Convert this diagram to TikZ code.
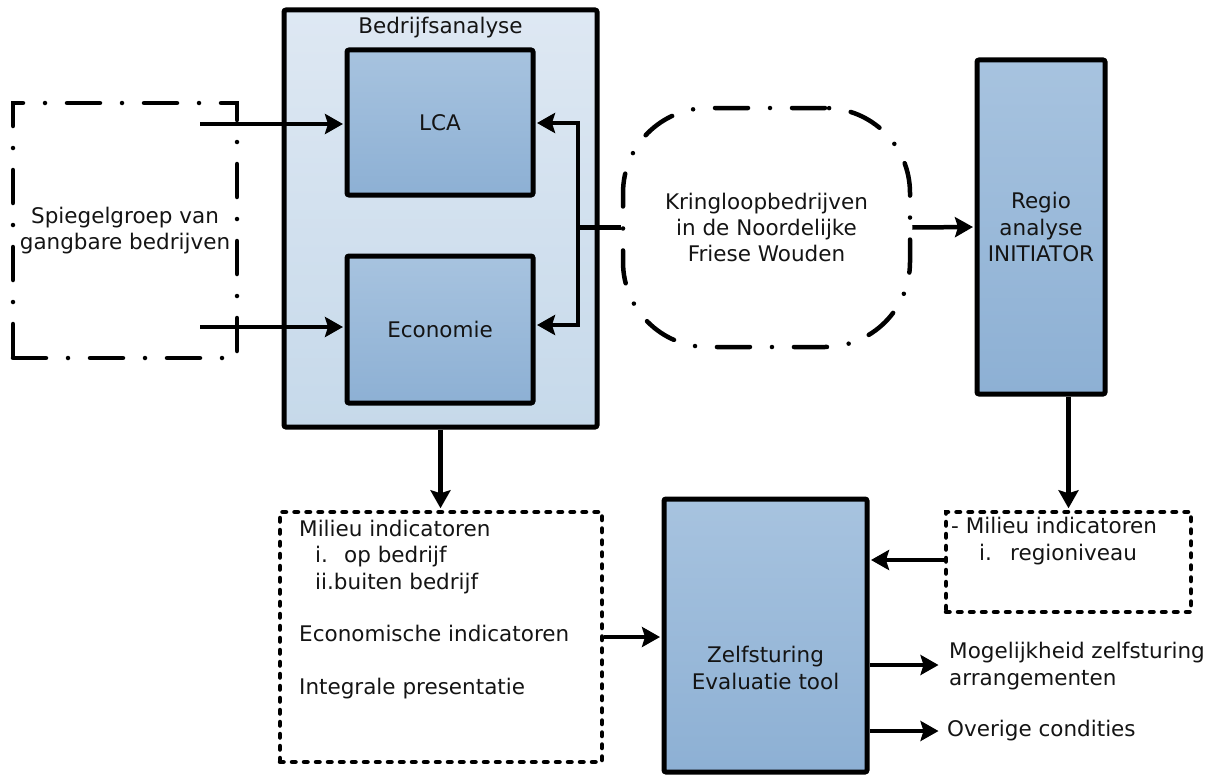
\documentclass[tikz,border=0pt]{standalone}
\usepackage{fontspec}
\setmainfont{DejaVu Sans}
\usetikzlibrary{arrows.meta,calc}
\definecolor{txt}{HTML}{141414}
\definecolor{baTop}{HTML}{DEE8F3}
\definecolor{baBot}{HTML}{C6D9EA}
\definecolor{blTop}{HTML}{A7C3DF}
\definecolor{blBot}{HTML}{8DB0D4}
\newcommand\dfs{\fontsize{21.5}{26.3}\selectfont}
\begin{document}
\begin{tikzpicture}[x=1pt,y=-1pt,
  box/.style={draw=black, line width=5pt, rounded corners=2pt, inner sep=0pt, text=txt, font=\dfs, align=center},
  outerbox/.style={box, top color=baTop, bottom color=baBot},
  bluebox/.style={box, top color=blTop, bottom color=blBot},
  dashdotbox/.style={draw=black, line width=4.5pt, line cap=round, dash pattern=on 33pt off 22pt on 0pt off 22pt, inner sep=0pt, text=txt, font=\dfs, align=center},
  dotbox/.style={draw=black, line width=4.5pt, line cap=round, dash pattern=on 3.5pt off 8.5pt, inner sep=0pt},
  lbl/.style={text=txt, font=\dfs, inner sep=0pt},
  arr/.style={draw=black, line width=4.5pt, shorten >=1.5pt, -{Stealth[length=18pt,width=20pt,inset=3pt]}},
  conn/.style={draw=black, line width=4.5pt}]
\useasboundingbox (0,0) rectangle (1217,776);

% Bedrijfsanalyse
\node[outerbox, minimum width=313pt, minimum height=417pt] (ba) at (440.5,218.5) {};
\node[lbl] (balbl) at (440.5,28) {Bedrijfsanalyse};
\node[bluebox, minimum width=186pt, minimum height=145pt] (lca) at (440,122.5) {LCA};
\node[bluebox, minimum width=186pt, minimum height=147pt] (eco) at (440,329.5) {Economie};

% Spiegelgroep
\node[dashdotbox, minimum width=224pt, minimum height=255pt] (spiegel) at (125,230.5) {Spiegelgroep van\\gangbare bedrijven};

% Kringloop
\node[dashdotbox, rounded corners=85pt, minimum width=287pt, minimum height=239pt] (kring) at (766.5,227.5) {Kringloopbedrijven\\in de Noordelijke\\Friese Wouden};

% Regio
\node[bluebox, minimum width=128pt, minimum height=334pt] (regio) at (1041,227) {Regio\\analyse\\INITIATOR};

% Left dotted box
\node[dotbox, minimum width=322pt, minimum height=250pt] (mil) at (441,637) {};
\node[lbl, anchor=north west, align=left] (miltext) at (299,520)
  {Milieu indicatoren\\
   \hspace*{16pt}i.\hspace{0.75em}op bedrijf\\
   \hspace*{16pt}ii.buiten bedrijf\\
   \mbox{}\\
   Economische indicatoren\\
   \mbox{}\\
   Integrale presentatie};

% Zelfsturing
\node[bluebox, minimum width=203pt, minimum height=273pt] (zelf) at (765.5,635.5) {};
\node[lbl, align=center] (zelftext) at (765.5,668) {Zelfsturing\\Evaluatie tool};

% Right dotted box
\node[dotbox, minimum width=245pt, minimum height=100pt] (rmil) at (1068.5,562) {};
\node[lbl, anchor=north west, align=left] (rmiltext) at (951,517)
  {- Milieu indicatoren\\[1pt]
   \hspace*{59pt}\llap{i.\hspace{0.85em}}regioniveau};

% Output labels
\node[lbl, anchor=west, align=left] (mog) at (949,666) {Mogelijkheid zelfsturing\\arrangementen};
\node[lbl, anchor=west] (ovr) at (947,731) {Overige condities};

% Connectors
\coordinate (s1) at (200,124);
\coordinate (s2) at (200,327);
\draw[arr] (s1) -- (lca.west |- s1);
\draw[arr] (s2) -- (eco.west |- s2);

\coordinate (br) at (578,227.5);
\draw[conn] (kring.west) -- (br);
\coordinate (b1) at (578,123);
\coordinate (b2) at (578,325);
\draw[conn] (br) -- (b2);
\draw[conn] (br) -- (b1);
\draw[arr] ([yshift=2.25pt]b1) |- (lca.east |- b1);
\draw[arr] ([yshift=-2.25pt]b2) |- (eco.east |- b2);

\draw[arr] (kring.east) -- (regio.west);
\draw[arr] (ba.south) -- (ba.south |- mil.north);
\draw[arr] (regio.south -| rmil.north) -- (rmil.north);
\draw[arr] (mil.east) -- (zelf.west |- mil.east);
\coordinate (r1) at (946,560);
\draw[arr] (r1) -- (zelf.east |- r1);

\coordinate (o1) at (940,665);
\coordinate (o2) at (940,731);
\draw[arr] (zelf.east |- o1) -- (o1);
\draw[arr] (zelf.east |- o2) -- (o2);
\end{tikzpicture}
\end{document}
